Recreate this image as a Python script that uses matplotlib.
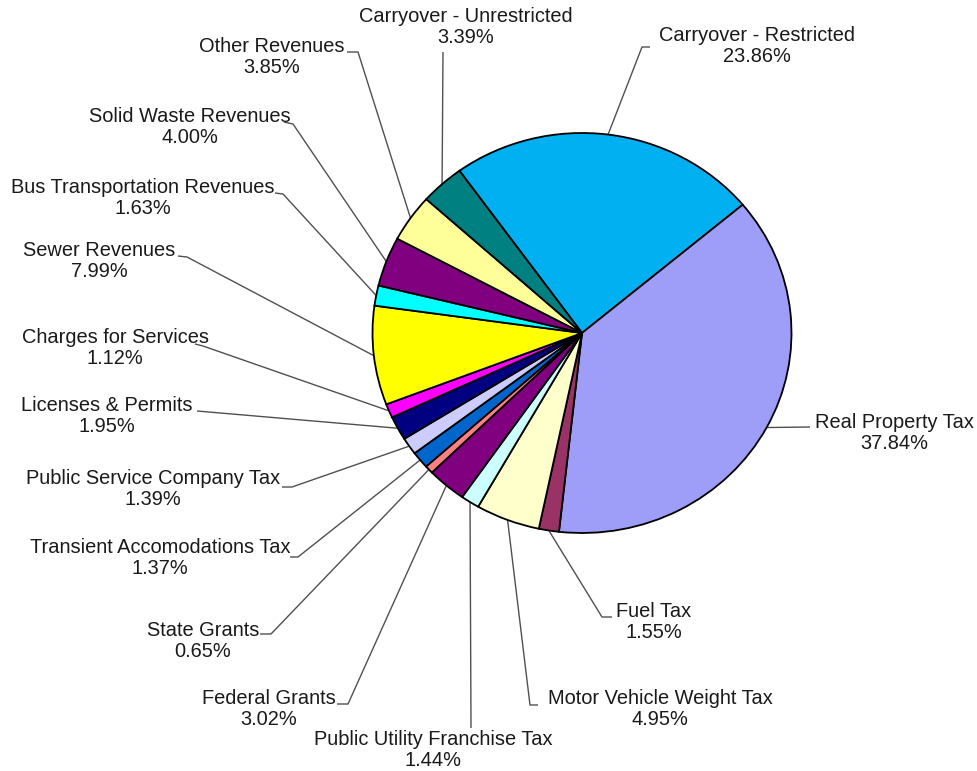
import numpy as np
import matplotlib
matplotlib.use("Agg")
import matplotlib.pyplot as plt

# ---------------- data ----------------
categories = [
    "Carryover - Restricted", "Real Property Tax", "Fuel Tax",
    "Motor Vehicle Weight Tax", "Public Utility Franchise Tax", "Federal Grants",
    "State Grants", "Transient Accomodations Tax", "Public Service Company Tax",
    "Licenses & Permits", "Charges for Services", "Sewer Revenues",
    "Bus Transportation Revenues", "Solid Waste Revenues", "Other Revenues",
    "Carryover - Unrestricted",
]
shares = [23.86, 37.84, 1.55, 4.95, 1.44, 3.02, 0.65, 1.37, 1.39,
          1.95, 1.12, 7.99, 1.63, 4.00, 3.85, 3.39]
colors = ["#00B0F0", "#9E9EF8", "#993366", "#FFFFCC", "#CCFFFF", "#800080",
          "#FF8080", "#0066CC", "#CCCCFF", "#000080", "#FF00FF", "#FFFF00",
          "#00FFFF", "#800080", "#FFFF99", "#008080"]

# ---------------- layout (pixels) ----------------
W, H = 978, 771
cx, cy, rx, ry = 582, 333, 209.5, 200
# label text centre (x, y of the two-line block) and leader elbow points
label_layout = {
    "Carryover - Restricted":       ((757, 46),  [(650, 47), (642, 47)]),
    "Real Property Tax":            ((894, 433), [(810, 427)]),
    "Fuel Tax":                     ((654, 622), [(612, 617), (602, 617)]),
    "Motor Vehicle Weight Tax":     ((660, 709), [(538, 705), (530, 705)]),
    "Public Utility Franchise Tax": ((433, 750), [(471, 728)]),
    "Federal Grants":               ((269, 709), [(337, 704), (348, 704)]),
    "State Grants":                 ((203, 641), [(260, 634), (271, 634)]),
    "Transient Accomodations Tax":  ((160, 558), [(290, 557), (298, 557)]),
    "Public Service Company Tax":   ((153, 489), [(282, 487), (292, 487)]),
    "Licenses & Permits":           ((107, 416), [(197, 411)]),
    "Charges for Services":         ((115, 348), [(195, 344), (203, 346)]),
    "Sewer Revenues":               ((99, 261),  [(178, 256), (187, 257)]),
    "Bus Transportation Revenues":  ((143, 198), [(275, 193), (283, 194)]),
    "Solid Waste Revenues":         ((190, 127), [(284, 122), (293, 124)]),
    "Other Revenues":               ((272, 57),  [(347, 52), (358, 52)]),
    "Carryover - Unrestricted":     ((466, 27),  [(443, 52)]),
}

fig = plt.figure(figsize=(W / 100, H / 100), dpi=100)
ax = fig.add_axes([0, 0, 1, 1])
ax.set_xlim(0, W)
ax.set_ylim(H, 0)
ax.axis("off")

pax = fig.add_axes([(cx - rx) / W, (H - cy - ry) / H, 2 * rx / W, 2 * ry / H])
wedges, _ = pax.pie(shares, colors=colors, startangle=125.8, counterclock=False,
                    wedgeprops=dict(edgecolor="black", linewidth=1.3))
for w in wedges:
    w.set_clip_on(False)
pax.set_aspect("auto")
pax.set_xlim(-1, 1)
pax.set_ylim(-1, 1)
pax.axis("off")

for w, name, val in zip(wedges, categories, shares):
    mid = np.deg2rad((w.theta1 + w.theta2) / 2)
    ex = cx + rx * np.cos(mid)
    ey = cy - ry * np.sin(mid)
    (tx, ty), elbows = label_layout[name]
    pts = elbows + [(ex, ey)]
    xs, ys = zip(*pts)
    ax.plot(xs, ys, color="#505050", lw=1.0, solid_capstyle="butt")
    ax.text(tx, ty, f"{name}\n{val:.2f}%", ha="center", va="center",
            fontsize=14.4, linespacing=1.12, color="#1a1a1a",
            family="Liberation Sans")

fig.savefig("out.png", dpi=100)
